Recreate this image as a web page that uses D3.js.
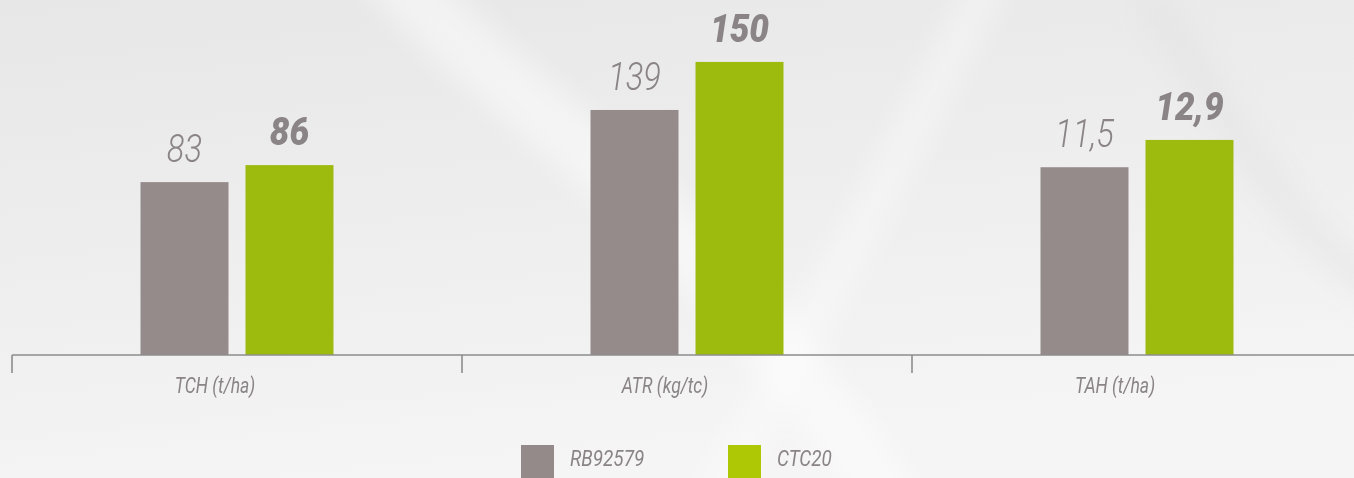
<!DOCTYPE html>
<html>
<head>
<meta charset="utf-8">
<script src="https://cdn.jsdelivr.net/npm/d3@7"></script>
<style>
  html, body { margin: 0; padding: 0; background: #efefef; }
  svg { display: block; }
</style>
</head>
<body>
<div id="plot"></div>
<script>
// values
const categories = ["TCH (t/ha)", "ATR (kg/tc)", "TAH (t/ha)"];
const series = ["RB92579", "CTC20"];
const rb92579 = [83, 139, 11.5];
const ctc20 = [86, 150, 12.9];
// every group has its own scale in the original (domain floor / top)
const scaleFloor = [52.5, 82.9, 1.87];
const scaleTop = [111.6, 159.6, 19.05];

const width = 1354, height = 478;
const baseline = 355, plotTop = 20;
const colors = {bars: ["#968b8b", "#9dbb0e"], legend: ["#958a8a", "#afc806"]};
const textColor = "#8a8487";

const fmt = d3.formatLocale({decimal: ",", thousands: ".", grouping: [3], currency: ["R$", ""]}).format("");

const svg = d3.select("#plot").append("svg")
  .attr("width", width)
  .attr("height", height);

// background
const defs = svg.append("defs");
const bg = defs.append("linearGradient").attr("id", "bg")
  .attr("x1", 0).attr("y1", 0).attr("x2", 0.3).attr("y2", 1);
bg.append("stop").attr("offset", 0).attr("stop-color", "#e7e7e7");
bg.append("stop").attr("offset", 0.6).attr("stop-color", "#efefef");
bg.append("stop").attr("offset", 1).attr("stop-color", "#f5f5f5");
defs.append("filter").attr("id", "blur")
  .append("feGaussianBlur").attr("stdDeviation", 14);

svg.append("rect").attr("width", width).attr("height", height).attr("fill", "url(#bg)");
const deco = svg.append("g").attr("filter", "url(#blur)").attr("fill", "none");
deco.append("path").attr("d", "M380,-40 C520,120 700,200 900,520")
  .attr("stroke", "#ffffff").attr("stroke-width", 60).attr("opacity", 0.45);
deco.append("path").attr("d", "M1000,-40 C900,150 850,260 700,520")
  .attr("stroke", "#ffffff").attr("stroke-width", 40).attr("opacity", 0.35);
deco.append("path").attr("d", "M1150,0 C1250,150 1300,250 1400,300")
  .attr("stroke", "#dcdcdc").attr("stroke-width", 30).attr("opacity", 0.35);

// scales
const x = d3.scaleBand(categories, [12, 1362]);
const xSub = d3.scaleBand(series, [0, 193]).paddingInner(0.162);
const yScales = categories.map((c, i) =>
  d3.scaleLinear([scaleFloor[i], scaleTop[i]], [baseline, plotTop]));

const rows = categories.map((c, i) => ({cat: c, i, values: [rb92579[i], ctc20[i]]}));

const groups = svg.selectAll("g.group")
  .data(rows)
  .join("g")
  .attr("class", "group")
  .attr("transform", d => `translate(${x(d.cat) + (x.bandwidth() - 193) / 2},0)`);

groups.selectAll("rect")
  .data(d => d.values.map((v, j) => ({v, s: series[j], j, i: d.i})))
  .join("rect")
  .attr("x", d => xSub(d.s))
  .attr("width", xSub.bandwidth())
  .attr("y", d => yScales[d.i](d.v))
  .attr("height", d => baseline - yScales[d.i](d.v))
  .attr("fill", d => colors.bars[d.j]);

groups.selectAll("text.value")
  .data(d => d.values.map((v, j) => ({v, s: series[j], j, i: d.i})))
  .join("text")
  .attr("class", "value")
  .attr("transform", d => `translate(${xSub(d.s) + xSub.bandwidth() / 2},${yScales[d.i](d.v) - 20}) scale(${d.j ? 0.9 : 0.84},1)`)
  .attr("text-anchor", "middle")
  .attr("font-family", "Roboto, 'Liberation Sans', sans-serif")
  .attr("font-style", "italic")
  .attr("font-weight", d => d.j ? 900 : 300)
  .attr("font-size", 39)
  .attr("fill", textColor)
  .text(d => fmt(d.v));

// axis line and ticks
const axis = svg.append("g").attr("stroke", "#8c8c8c").attr("stroke-width", 1.6);
axis.append("line")
  .attr("x1", x(categories[0])).attr("x2", width)
  .attr("y1", baseline).attr("y2", baseline);
axis.selectAll("line.tick")
  .data(categories)
  .join("line")
  .attr("class", "tick")
  .attr("x1", d => x(d)).attr("x2", d => x(d))
  .attr("y1", baseline).attr("y2", baseline + 18);

svg.selectAll("text.cat")
  .data(categories)
  .join("text")
  .attr("class", "cat")
  .attr("transform", d => `translate(${x(d) + x.bandwidth() / 2 - 22},393) scale(0.8,1)`)
  .attr("text-anchor", "middle")
  .attr("font-family", "Roboto, 'Liberation Sans', sans-serif")
  .attr("font-style", "italic")
  .attr("font-weight", 400)
  .attr("font-size", 22)
  .attr("fill", textColor)
  .text(d => d);

// legend
const legendX = d3.scalePoint(series, [521, 728]);
const legend = svg.selectAll("g.legend")
  .data(series)
  .join("g")
  .attr("class", "legend")
  .attr("transform", d => `translate(${legendX(d)},445)`);
legend.append("rect")
  .attr("width", 33).attr("height", 33)
  .attr("fill", (d, i) => colors.legend[i]);
legend.append("text")
  .attr("transform", "translate(49,21) scale(0.86,1)")
  .attr("font-family", "Roboto, 'Liberation Sans', sans-serif")
  .attr("font-style", "italic")
  .attr("font-weight", 400)
  .attr("font-size", 22)
  .attr("fill", textColor)
  .text(d => d);
</script>
</body>
</html>
